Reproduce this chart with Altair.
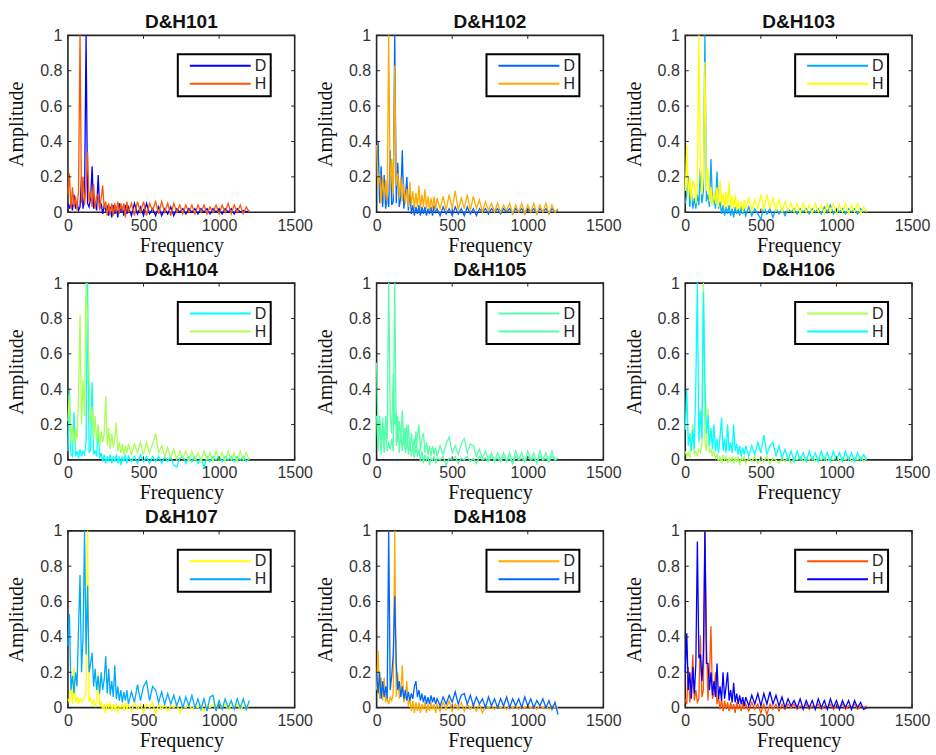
import altair as alt
import pandas as pd

FREQ = [0, 10, 20, 30, 40, 50, 60, 70, 80, 90, 100,
        110, 120, 130, 140, 150, 160, 170, 180, 190, 200,
        210, 220, 230, 240, 250, 260, 270, 280, 290, 300,
        310, 320, 330, 340, 350, 360, 370, 380, 390, 400,
        420, 440, 460, 480, 500, 520, 540, 560, 580, 600,
        620, 640, 660, 680, 700, 720, 740, 760, 780, 800,
        820, 840, 860, 880, 900, 920, 940, 960, 980, 1000,
        1020, 1040, 1060, 1080, 1100, 1120, 1140, 1160, 1180, 1200]

P1_D = [0.05, 0.02, 0.06, 0.01, 0.10, 0.02, 0.06, 0.01, 0.03, 0.20, 0.02,
        0.08, 1.00, 0.05, 0.03, 0.08, 0.26, 0.02, 0.06, 0.01, 0.21,
        0.02, 0.05, -0.01, 0.04, 0.01, 0.03, -0.02, 0.03, -0.03, 0.04,
        -0.01, 0.03, -0.03, 0.05, 0.00, 0.03, -0.02, 0.04, -0.01, 0.03,
        -0.02, 0.05, -0.01, 0.03, -0.02, 0.05, -0.01, 0.02, -0.02, 0.03,
        -0.02, 0.02, -0.01, 0.03, -0.02, 0.02, 0.00, 0.02, -0.01, 0.02,
        0.00, 0.02, -0.01, 0.02, 0.00, 0.02, -0.01, 0.02, 0.00, 0.02,
        -0.01, 0.02, 0.00, 0.02, -0.01, 0.02, 0.00, 0.01, 0.00, 0.01]
P1_H = [0.10, 0.22, 0.02, 0.14, 0.03, 0.09, 0.01, 0.12, 1.00, 0.05, 0.20,
        0.04, 0.15, 0.34, 0.06, 0.12, 0.03, 0.16, 0.02, 0.09, 0.10,
        0.01, 0.08, 0.15, 0.02, 0.06, -0.02, 0.05, -0.01, 0.05, -0.02,
        0.05, 0.00, 0.06, -0.01, 0.05, 0.01, 0.05, -0.03, 0.06, 0.00,
        0.05, -0.02, 0.06, 0.00, 0.06, -0.02, 0.05, 0.01, 0.06, -0.01,
        0.06, 0.00, 0.05, -0.02, 0.05, 0.00, 0.04, -0.01, 0.04, 0.00,
        0.04, -0.01, 0.04, 0.00, 0.04, -0.01, 0.03, 0.00, 0.04, -0.01,
        0.04, 0.00, 0.05, -0.01, 0.04, 0.00, 0.04, -0.01, 0.03, 0.00]

P2_D = [0.20, 0.40, 0.05, 0.26, 0.03, 0.21, 0.02, 0.10, 0.03, 0.35, 0.04,
        0.06, 1.00, 0.05, 0.28, 0.03, 0.08, 0.35, 0.02, 0.08, 0.20,
        0.01, 0.12, -0.01, 0.04, -0.02, 0.03, -0.01, 0.04, -0.02, 0.03,
        -0.01, 0.03, -0.02, 0.02, -0.01, 0.03, -0.02, 0.04, 0.00, 0.02,
        -0.02, 0.03, -0.01, 0.02, -0.02, 0.03, -0.01, 0.02, -0.02, 0.03,
        -0.01, 0.02, -0.02, 0.02, 0.00, 0.02, -0.01, 0.02, 0.00, 0.02,
        -0.01, 0.02, 0.00, 0.02, -0.01, 0.02, 0.00, 0.02, -0.01, 0.02,
        0.00, 0.02, -0.01, 0.02, 0.00, 0.02, -0.01, 0.02, 0.00, 0.01]
P2_H = [0.38, 0.15, 0.22, 0.05, 0.20, 0.08, 0.18, 0.06, 1.00, 0.12, 0.30,
        0.10, 0.83, 0.15, 0.22, 0.08, 0.20, 0.06, 0.16, 0.05, 0.13,
        0.03, 0.17, 0.04, 0.12, 0.02, 0.11, 0.03, 0.15, 0.02, 0.10,
        0.03, 0.13, 0.02, 0.09, 0.01, 0.08, 0.02, 0.09, 0.01, 0.08,
        0.02, 0.09, 0.01, 0.10, 0.02, 0.12, 0.01, 0.08, 0.02, 0.10,
        0.01, 0.09, 0.02, 0.07, 0.00, 0.06, 0.01, 0.05, 0.00, 0.05,
        0.00, 0.04, 0.01, 0.05, -0.01, 0.04, 0.00, 0.05, -0.01, 0.04,
        0.00, 0.05, -0.01, 0.04, 0.00, 0.05, -0.01, 0.04, 0.00, 0.02]

P3_D = [0.05, 0.10, 0.20, 0.03, 0.12, 0.02, 0.08, 0.02, 0.10, 0.04, 0.25,
        0.05, 0.12, 1.00, 0.06, 0.10, 0.03, 0.30, 0.04, 0.08, 0.02,
        0.23, 0.02, 0.06, -0.01, 0.04, -0.02, 0.03, -0.01, 0.04, -0.02,
        0.02, -0.03, 0.03, -0.01, 0.02, -0.02, 0.03, -0.01, 0.02, -0.02,
        0.03, -0.02, 0.02, -0.01, -0.04, 0.03, -0.01, 0.02, -0.03, 0.02,
        -0.01, 0.02, -0.02, 0.02, 0.00, 0.02, -0.01, 0.02, 0.00, 0.02,
        -0.01, 0.02, 0.00, 0.02, -0.01, 0.03, 0.00, 0.04, -0.01, 0.02,
        0.00, 0.02, -0.01, 0.02, 0.00, 0.02, -0.01, 0.02, 0.00, 0.01]
P3_H = [0.12, 0.38, 0.08, 0.20, 0.06, 0.18, 0.16, 0.05, 0.12, 1.00, 0.26,
        0.10, 0.20, 0.85, 0.12, 0.25, 0.06, 0.14, 0.04, 0.12, 0.05,
        0.14, 0.03, 0.18, 0.04, 0.11, 0.02, 0.12, 0.03, 0.17, 0.02,
        0.09, 0.02, 0.10, 0.01, 0.07, 0.02, 0.06, 0.00, 0.07, 0.02,
        0.08, 0.01, 0.07, 0.02, 0.10, 0.01, 0.10, 0.02, 0.08, 0.01,
        0.07, 0.00, 0.06, 0.01, 0.05, 0.00, 0.05, -0.01, 0.05, 0.00,
        0.04, -0.01, 0.05, 0.00, 0.04, -0.01, 0.05, 0.00, 0.05, -0.01,
        0.04, 0.00, 0.05, -0.01, 0.04, 0.00, 0.05, -0.01, 0.03, 0.00]

P4_D = [0.05, 0.40, 0.03, 0.02, 0.27, 0.02, 0.05, 0.01, 0.06, 0.02, 0.05,
        0.03, 0.10, 1.00, 0.04, 0.06, 0.44, 0.03, 0.05, 0.02, 0.19,
        0.01, 0.04, -0.01, 0.03, -0.02, 0.02, -0.01, 0.03, -0.02, 0.02,
        -0.01, 0.03, -0.02, 0.02, -0.03, 0.02, -0.01, 0.03, -0.02, 0.02,
        -0.01, 0.02, -0.02, 0.03, -0.01, 0.02, -0.02, 0.02, -0.01, 0.02,
        -0.02, 0.02, -0.01, 0.02, -0.03, -0.04, 0.01, 0.02, -0.02, 0.02,
        -0.01, 0.02, -0.02, 0.01, -0.04, 0.02, -0.01, 0.02, 0.00, 0.02,
        -0.01, 0.02, 0.00, 0.02, -0.01, 0.02, 0.00, 0.02, -0.01, 0.01]
P4_H = [0.22, 0.37, 0.10, 0.20, 0.08, 0.18, 0.12, 0.36, 0.82, 0.20, 0.45,
        0.25, 1.00, 0.80, 0.48, 0.20, 0.30, 0.12, 0.25, 0.10, 0.20,
        0.08, 0.16, 0.10, 0.15, 0.36, 0.08, 0.18, 0.06, 0.15, 0.07,
        0.12, 0.21, 0.05, 0.10, 0.04, 0.09, 0.03, 0.08, 0.04, 0.09,
        0.03, 0.09, 0.04, 0.10, 0.03, 0.10, 0.04, 0.09, 0.15, 0.04,
        0.08, 0.02, 0.07, 0.01, 0.06, 0.00, 0.05, 0.01, 0.05, -0.01,
        0.05, 0.00, 0.04, -0.01, 0.05, 0.00, 0.04, -0.01, 0.05, 0.00,
        0.04, -0.01, 0.05, 0.00, 0.04, -0.01, 0.05, 0.00, 0.04, 0.00]

P5_D = [0.25, 0.05, 0.22, 0.03, 0.20, 0.04, 0.18, 0.05, 0.10, 0.06, 0.12,
        0.05, 1.00, 0.08, 0.25, 0.04, 0.15, 0.05, 0.18, 0.04, 0.20,
        0.03, 0.10, 0.02, 0.08, 0.01, 0.16, 0.02, 0.06, -0.01, 0.05,
        -0.02, 0.03, 0.00, 0.02, -0.03, 0.01, 0.00, 0.02, -0.02, 0.01,
        0.00, 0.02, -0.03, 0.01, 0.00, 0.02, -0.02, 0.01, 0.00, 0.02,
        -0.01, 0.01, -0.02, 0.02, 0.00, 0.01, -0.01, 0.02, 0.00, 0.01,
        -0.01, 0.02, 0.00, 0.01, -0.02, 0.02, 0.00, 0.01, -0.01, 0.02,
        0.00, 0.01, -0.01, 0.02, 0.00, 0.01, -0.01, 0.02, 0.00, 0.01]
P5_H = [0.55, 0.15, 0.25, 0.08, 0.24, 0.10, 0.25, 0.12, 1.00, 0.25, 0.15,
        0.49, 0.20, 0.27, 0.10, 0.22, 0.12, 0.28, 0.08, 0.18, 0.06,
        0.20, 0.05, 0.15, 0.07, 0.12, 0.04, 0.14, 0.20, 0.05, 0.12,
        0.15, 0.04, 0.10, 0.03, 0.08, 0.02, 0.08, 0.03, 0.07, 0.02,
        0.08, 0.03, 0.09, 0.13, 0.04, 0.08, 0.03, 0.09, 0.12, 0.04,
        0.09, 0.08, 0.02, 0.06, 0.01, 0.05, 0.00, 0.04, -0.01, 0.04,
        0.00, 0.04, -0.01, 0.04, -0.02, 0.05, 0.00, 0.04, -0.01, 0.05,
        0.00, 0.04, -0.02, 0.05, 0.00, 0.04, -0.01, 0.05, 0.00, 0.01]

P6_D = [0.05, 0.02, 0.04, 0.01, 0.12, 0.20, 0.03, 0.05, 0.02, 0.06, 0.04,
        0.08, 1.00, 0.10, 0.05, 0.29, 0.04, 0.06, 0.02, 0.05, 0.01,
        0.03, -0.01, 0.02, -0.02, 0.03, 0.00, 0.02, -0.02, 0.01, -0.01,
        0.02, -0.02, 0.01, -0.01, 0.02, -0.03, 0.01, 0.00, 0.02, -0.02,
        0.01, -0.01, 0.02, -0.02, 0.01, -0.01, 0.02, -0.02, 0.01, 0.00,
        -0.02, 0.01, -0.01, 0.02, -0.02, 0.01, 0.00, 0.02, -0.01, 0.01,
        0.00, 0.02, -0.01, 0.01, 0.00, 0.02, -0.01, 0.01, 0.00, 0.02,
        -0.01, 0.01, 0.00, 0.02, -0.01, 0.01, 0.00, 0.02, -0.01, 0.01]
P6_H = [0.17, 0.40, 0.08, 0.15, 0.05, 0.17, 0.06, 0.44, 1.00, 0.10, 0.28,
        0.12, 0.95, 0.44, 0.15, 0.25, 0.08, 0.18, 0.06, 0.20, 0.05,
        0.12, 0.04, 0.13, 0.24, 0.05, 0.12, 0.04, 0.20, 0.05, 0.10,
        0.04, 0.20, 0.05, 0.09, 0.03, 0.08, 0.02, 0.07, 0.03, 0.08,
        0.02, 0.08, 0.03, 0.10, 0.04, 0.14, 0.03, 0.08, 0.10, 0.02,
        0.08, 0.01, 0.06, 0.00, 0.05, -0.01, 0.05, 0.00, 0.04, -0.01,
        0.05, 0.00, 0.04, -0.01, 0.05, 0.00, 0.04, -0.01, 0.05, 0.00,
        0.04, -0.01, 0.05, 0.00, 0.04, -0.01, 0.04, 0.00, 0.03, 0.00]

P7_D = [0.05, 0.03, 0.12, 0.02, 0.23, 0.03, 0.06, 0.02, 0.05, 0.03, 0.04,
        0.05, 0.10, 1.00, 0.04, 0.05, 0.02, 0.04, 0.01, 0.03, 0.20,
        0.01, 0.03, -0.01, 0.02, -0.03, 0.02, 0.00, 0.03, -0.02, 0.02,
        -0.01, 0.02, -0.03, 0.01, 0.00, 0.02, -0.02, 0.03, -0.01, 0.02,
        -0.02, 0.03, -0.01, 0.02, -0.03, 0.02, 0.00, 0.03, -0.04, 0.02,
        -0.01, 0.02, -0.02, 0.01, 0.00, 0.02, -0.03, 0.01, 0.00, 0.02,
        -0.01, 0.01, 0.00, 0.02, -0.02, 0.01, 0.00, 0.02, -0.01, 0.01,
        0.00, 0.02, -0.01, 0.01, 0.00, 0.02, -0.01, 0.01, 0.00, 0.01]
P7_H = [0.35, 0.53, 0.10, 0.18, 0.08, 0.20, 0.12, 0.45, 0.75, 0.20, 0.40,
        1.00, 0.30, 0.69, 0.20, 0.25, 0.31, 0.12, 0.22, 0.10, 0.18,
        0.08, 0.20, 0.10, 0.16, 0.29, 0.08, 0.22, 0.07, 0.15, 0.06,
        0.24, 0.05, 0.12, 0.04, 0.10, 0.03, 0.09, 0.04, 0.10, 0.02,
        0.09, 0.03, 0.13, 0.04, 0.12, 0.15, 0.04, 0.12, 0.10, 0.03,
        0.09, 0.02, 0.08, 0.02, 0.07, 0.01, 0.06, 0.00, 0.06, 0.01,
        0.07, 0.00, 0.05, -0.01, 0.05, -0.02, 0.06, 0.07, -0.02, 0.04,
        -0.01, 0.05, 0.00, 0.04, -0.01, 0.05, 0.00, 0.05, -0.01, 0.04]

P8_D = [0.10, 0.32, 0.05, 0.17, 0.04, 0.17, 0.03, 0.05, 0.02, 0.06, 0.04,
        0.08, 1.00, 0.06, 0.20, 0.05, 0.08, 0.24, 0.03, 0.06, 0.15,
        0.01, 0.05, -0.02, 0.04, -0.03, 0.03, -0.02, 0.03, -0.03, 0.02,
        -0.01, 0.03, -0.03, 0.02, -0.02, 0.03, -0.01, 0.02, -0.03, 0.02,
        -0.02, 0.03, -0.01, 0.04, -0.02, 0.02, -0.01, 0.03, -0.02, 0.02,
        -0.01, 0.02, -0.02, 0.02, -0.03, 0.01, 0.00, 0.01, -0.01, 0.01,
        0.00, 0.01, -0.01, 0.01, 0.00, 0.01, -0.01, 0.01, 0.00, 0.01,
        0.00, 0.01, -0.01, 0.01, 0.00, 0.01, -0.01, 0.01, 0.00, 0.00]
P8_H = [0.20, 0.08, 0.20, 0.05, 0.15, 0.06, 0.12, 0.05, 1.00, 0.10, 0.18,
        0.30, 0.63, 0.25, 0.10, 0.15, 0.06, 0.12, 0.05, 0.10, 0.04,
        0.09, 0.04, 0.08, 0.05, 0.12, 0.15, 0.06, 0.10, 0.04, 0.08,
        0.03, 0.07, 0.02, 0.06, 0.02, 0.07, 0.03, 0.06, 0.02, 0.05,
        0.01, 0.06, 0.02, 0.07, 0.03, 0.09, 0.02, 0.07, 0.08, 0.02,
        0.07, 0.01, 0.06, 0.02, 0.05, 0.00, 0.06, 0.01, 0.05, 0.00,
        0.05, 0.01, 0.06, 0.00, 0.05, 0.01, 0.05, 0.00, 0.06, 0.01,
        0.05, 0.00, 0.04, 0.01, 0.05, 0.00, 0.04, -0.01, 0.03, -0.04]

P9_D = [0.05, 0.02, 0.23, 0.03, 0.10, 0.30, 0.04, 0.10, 0.03, 0.05, 0.41,
        0.06, 0.10, 1.00, 0.38, 0.04, 0.18, 0.46, 0.05, 0.08, 0.20,
        0.02, 0.06, -0.01, 0.05, -0.02, 0.04, -0.01, 0.03, -0.02, 0.03,
        -0.01, 0.02, -0.03, 0.03, -0.01, 0.02, -0.02, 0.03, -0.01, 0.02,
        -0.02, 0.03, -0.01, 0.02, -0.03, 0.02, -0.04, 0.02, -0.01, 0.02,
        -0.02, 0.02, -0.01, 0.02, 0.00, 0.02, -0.01, 0.01, 0.00, 0.02,
        -0.01, 0.01, 0.00, 0.02, -0.01, 0.01, 0.00, 0.02, -0.01, 0.01,
        0.00, 0.02, -0.01, 0.01, 0.00, 0.02, -0.01, 0.01, 0.00, 0.01]
P9_H = [0.20, 0.42, 0.10, 0.20, 0.05, 0.23, 0.08, 0.25, 0.94, 0.28, 0.30,
        0.15, 0.30, 1.00, 0.25, 0.25, 0.10, 0.20, 0.07, 0.15, 0.06,
        0.25, 0.05, 0.12, 0.04, 0.20, 0.05, 0.12, 0.20, 0.04, 0.10,
        0.03, 0.14, 0.03, 0.08, 0.02, 0.07, 0.02, 0.06, 0.01, 0.06,
        0.01, 0.07, 0.02, 0.08, 0.01, 0.08, 0.02, 0.09, 0.02, 0.07,
        0.01, 0.06, 0.00, 0.05, 0.01, 0.04, 0.00, 0.05, -0.01, 0.04,
        0.00, 0.04, -0.01, 0.05, 0.00, 0.04, -0.01, 0.05, 0.00, 0.04,
        -0.01, 0.04, 0.00, 0.04, -0.01, 0.04, 0.00, 0.03, -0.01, 0.00]

D_SERIES = [P1_D, P2_D, P3_D, P4_D, P5_D, P6_D, P7_D, P8_D, P9_D]
H_SERIES = [P1_H, P2_H, P3_H, P4_H, P5_H, P6_H, P7_H, P8_H, P9_H]
TITLES = ["D&H101", "D&H102", "D&H103", "D&H104", "D&H105",
          "D&H106", "D&H107", "D&H108", ""]
PALETTE = ["#0000ff", "#0066ff", "#00aaff", "#00ffff", "#55ffaa",
           "#aaff55", "#ffff00", "#ffaa00", "#ff5500"]
D_COLORS = [PALETTE[0], PALETTE[1], PALETTE[2], PALETTE[3], PALETTE[4],
            PALETTE[5], PALETTE[6], PALETTE[7], PALETTE[8]]
H_COLORS = [PALETTE[8], PALETTE[7], PALETTE[6], PALETTE[5], PALETTE[4],
            PALETTE[3], PALETTE[2], PALETTE[1], PALETTE[0]]
X_TICKS = [0, 500, 1000, 1500]
Y_TICKS = [0, 0.2, 0.4, 0.6, 0.8, 1]

W, H = 227, 177
FRAME = "#262626"


def panel(i):
    d = pd.DataFrame({"f": FREQ, "a": D_SERIES[i], "s": "D"})
    h = pd.DataFrame({"f": FREQ, "a": H_SERIES[i], "s": "H"})
    xscale = alt.Scale(domain=[0, 1500], nice=False, zero=False)
    yscale = alt.Scale(domain=[0, 1], nice=False, zero=False)
    xaxis = alt.Axis(values=X_TICKS, format="d", title="Frequency",
                     labelFlush=False, titleY=39, titleBaseline="alphabetic")
    yaxis = alt.Axis(values=Y_TICKS, format="~g", title="Amplitude",
                     labelFlush=False, titleX=-45, titleBaseline="alphabetic")
    color = alt.Color(
        "s:N",
        scale=alt.Scale(domain=["D", "H"], range=[D_COLORS[i], H_COLORS[i]]),
        legend=alt.Legend(
            title=None, orient="none", legendX=110, legendY=19,
            direction="vertical", symbolType="stroke", symbolSize=3721,
            symbolStrokeWidth=2, clipHeight=15, rowPadding=1,
            labelFontSize=16, labelFont="Liberation Sans", labelColor=FRAME,
            labelOffset=3, padding=4, symbolOffset=7,
            strokeColor="black", fillColor="white",
        ),
    )
    x = alt.X("f:Q", scale=xscale, axis=xaxis)
    y = alt.Y("a:Q", scale=yscale, axis=yaxis)
    ld = alt.Chart(d).mark_line(strokeWidth=1.3, clip=False).encode(
        x=x, y=y, color=color, order=alt.Order("f:Q"))
    lh = alt.Chart(h).mark_line(strokeWidth=1.3, clip=False).encode(
        x=x, y=y, color=color, order=alt.Order("f:Q"))

    xt = pd.DataFrame({"t": X_TICKS})
    yt = pd.DataFrame({"t": Y_TICKS})
    tx = alt.X("t:Q", scale=xscale, axis=xaxis)
    ty = alt.Y("t:Q", scale=yscale, axis=yaxis)
    top_t = alt.Chart(xt).mark_rule(color=FRAME, strokeWidth=1).encode(
        x=tx, y=alt.value(0), y2=alt.value(3.5))
    bot_t = alt.Chart(xt).mark_rule(color=FRAME, strokeWidth=1).encode(
        x=tx, y=alt.value(H), y2=alt.value(H - 3.5))
    lef_t = alt.Chart(yt).mark_rule(color=FRAME, strokeWidth=1).encode(
        y=ty, x=alt.value(0), x2=alt.value(3.5))
    rig_t = alt.Chart(yt).mark_rule(color=FRAME, strokeWidth=1).encode(
        y=ty, x=alt.value(W), x2=alt.value(W - 3.5))

    props = dict(width=W, height=H)
    if TITLES[i]:
        props["title"] = alt.Title(TITLES[i])
    return alt.layer(ld, lh, top_t, bot_t, lef_t, rig_t).properties(**props)


chart = alt.concat(
    *[panel(i) for i in range(9)],
    columns=3,
    spacing={"row": 71, "column": 82},
    bounds="flush",
).resolve_scale(
    color="independent", x="independent", y="independent",
).resolve_legend(
    color="independent",
).properties(
    padding={"left": 6, "top": 11, "right": 5, "bottom": 5},
).configure_view(
    stroke=FRAME, strokeWidth=1.6,
).configure_axis(
    grid=False, domain=False, ticks=False, tickSize=0,
    labelFont="Liberation Sans", labelFontSize=16, labelColor="#333333",
    labelPadding=5,
    titleFont="Liberation Serif", titleFontSize=20, titleFontWeight="normal",
    titleColor="#111111",
).configure_axisY(
    labelPadding=6,
).configure_title(
    font="Liberation Sans", fontSize=19, fontWeight="bold", color="#111111",
    anchor="middle", baseline="alphabetic", offset=-4.5,
).configure_legend(
    strokeWidth=2,
)

chart.save("out.html", embed_options={"renderer": "svg", "actions": False})
